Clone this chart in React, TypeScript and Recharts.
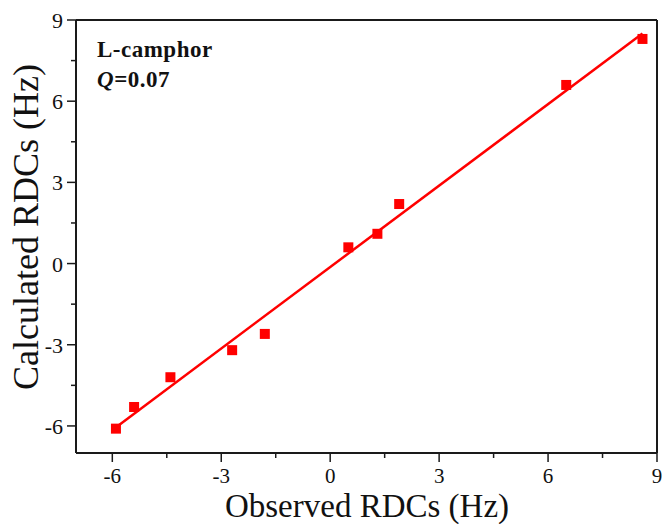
import React from 'react';
import { ScatterChart, Scatter, XAxis, YAxis, ReferenceLine } from 'recharts';

// observed vs calculated RDCs (Hz)
const observed = [-5.9, -5.4, -4.4, -2.7, -1.8, 0.5, 1.3, 1.9, 6.5, 8.6];
const calculated = [-6.1, -5.3, -4.2, -3.2, -2.6, 0.6, 1.1, 2.2, 6.6, 8.3];

// fitted line end points
const fitX = [-5.85, 8.6];
const fitY = [-6.0, 8.5];

const xTicks = [-6, -4.5, -3, -1.5, 0, 1.5, 3, 4.5, 6, 7.5, 9];
const yTicks = [-6, -4.5, -3, -1.5, 0, 1.5, 3, 4.5, 6, 7.5, 9];
const axisMin = -7;
const axisMax = 9;

const FONT = '"Liberation Serif", "Times New Roman", serif';
const RED = '#ff0000';
const INK = '#1a1a1a';

const isMajor = (v: number) => v % 3 === 0;

const XTick = ({ x, y, payload }: any) => {
  const major = isMajor(payload.value);
  return (
    <g>
      <line x1={x} y1={y} x2={x} y2={y + (major ? 9 : 5)} stroke={INK} strokeWidth={1.5} />
      {major && (
        <text x={x} y={y + 30} textAnchor="middle" fontFamily={FONT} fontSize={21} fill="#111">
          {payload.value}
        </text>
      )}
    </g>
  );
};

const YTick = ({ x, y, payload }: any) => {
  const major = isMajor(payload.value);
  return (
    <g>
      <line x1={x} y1={y} x2={x - (major ? 9 : 5)} y2={y} stroke={INK} strokeWidth={1.5} />
      {major && (
        <text x={x - 13} y={y + 8} textAnchor="end" fontFamily={FONT} fontSize={22} fill="#111">
          {payload.value}
        </text>
      )}
    </g>
  );
};

export default function App() {
  const points = observed.map((x, i) => ({ x, y: calculated[i] }));

  return (
    <div style={{ position: 'absolute', left: 0, top: 0, width: 665, height: 524, background: '#fff' }}>
      <ScatterChart width={665} height={524} margin={{ top: 20, right: 8, bottom: 0, left: 0 }}>
        <XAxis
          type="number"
          dataKey="x"
          domain={[axisMin, axisMax]}
          ticks={xTicks}
          interval={0}
          height={71}
          tickSize={0}
          tickMargin={0}
          tickLine={false}
          axisLine={{ stroke: INK, strokeWidth: 2 }}
          tick={<XTick />}
          label={{
            content: () => (
              <text x={367} y={517} textAnchor="middle" fontFamily={FONT} fontSize={33} fill="#111">
                Observed RDCs (Hz)
              </text>
            ),
          }}
        />
        <YAxis
          type="number"
          dataKey="y"
          domain={[axisMin, axisMax]}
          ticks={yTicks}
          interval={0}
          width={76}
          tickSize={0}
          tickMargin={0}
          tickLine={false}
          axisLine={{ stroke: INK, strokeWidth: 2 }}
          tick={<YTick />}
          label={{
            content: () => (
              <text
                x={38}
                y={227}
                transform="rotate(-90 38 227)"
                textAnchor="middle"
                fontFamily={FONT}
                fontSize={36}
                fill="#111"
              >
                Calculated RDCs (Hz)
              </text>
            ),
          }}
        />
        <ReferenceLine y={axisMax} stroke={INK} strokeWidth={2} />
        <ReferenceLine x={axisMax} stroke={INK} strokeWidth={2} />
        <ReferenceLine
          segment={[
            { x: fitX[0], y: fitY[0] },
            { x: fitX[1], y: fitY[1] },
          ]}
          stroke={RED}
          strokeWidth={2.5}
        />
        <Scatter
          data={points}
          isAnimationActive={false}
          shape={(p: any) => <rect x={p.cx - 5} y={p.cy - 5} width={10} height={10} fill={RED} />}
        />
      </ScatterChart>
      <div
        style={{
          position: 'absolute',
          left: 97,
          top: 35,
          fontFamily: FONT,
          fontWeight: 'bold',
          fontSize: 23,
          letterSpacing: 0.5,
          lineHeight: '30px',
          color: '#111',
        }}
      >
        <div>L-camphor</div>
        <div>
          <i>Q</i>=0.07
        </div>
      </div>
    </div>
  );
}
